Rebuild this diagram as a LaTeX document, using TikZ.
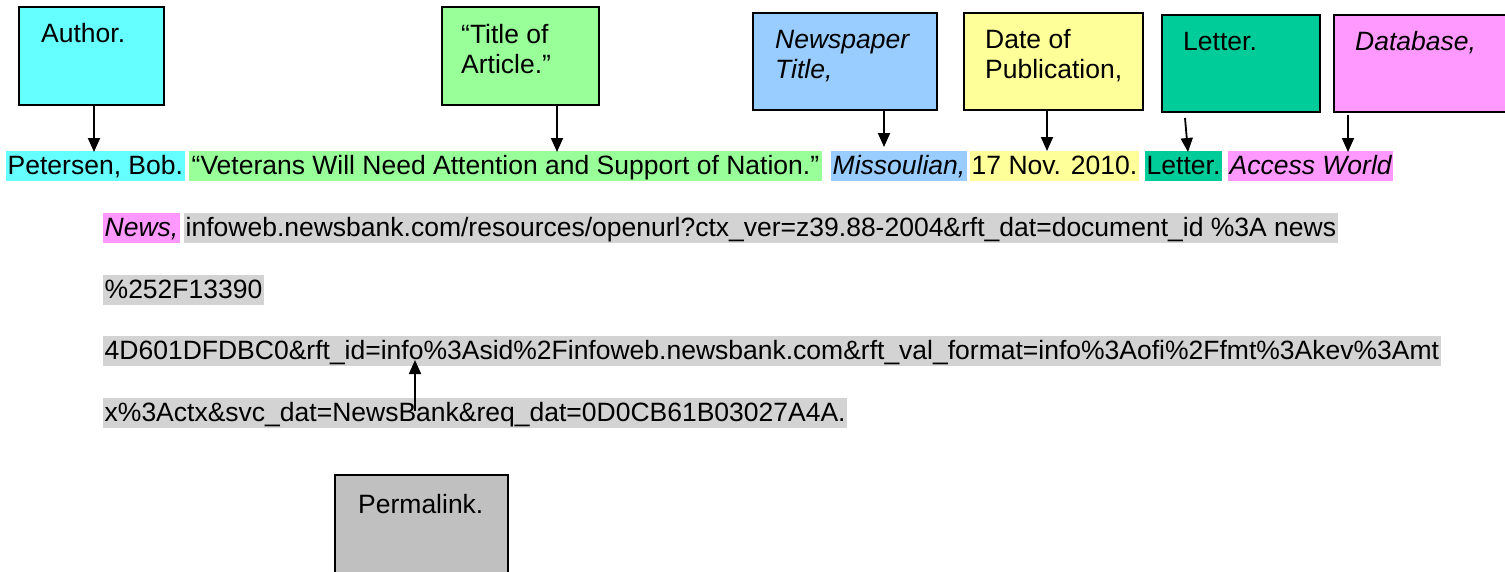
\documentclass[tikz,border=0pt]{standalone}
\usepackage{fontspec}
\setmainfont{Liberation Sans}
\usetikzlibrary{arrows.meta}
\definecolor{cAuthor}{HTML}{66FFFF}
\definecolor{cTitle}{HTML}{99FF99}
\definecolor{cPaper}{HTML}{99CCFF}
\definecolor{cDate}{HTML}{FFFF99}
\definecolor{cLetter}{HTML}{00CC99}
\definecolor{cBase}{HTML}{FF99FF}
\definecolor{cPerma}{HTML}{C0C0C0}
\definecolor{cUrl}{HTML}{D3D3D3}
\newcommand{\bigtxt}{\fontsize{26.5}{30}\selectfont}
\tikzset{
  box/.style={draw=black, line width=1.8pt, anchor=north west, inner sep=0pt},
  lab/.style={anchor=base west, inner sep=0pt, font=\bigtxt},
  seg/.style={anchor=base west, inner xsep=1.5pt, inner ysep=0pt, text height=23pt, text depth=7pt, font=\bigtxt},
  arr/.style={line width=1.8pt, -{Triangle[length=14pt,width=12pt]}},
}
\begin{document}
\begin{tikzpicture}[x=1pt,y=-1pt]
\useasboundingbox[fill=white] (0,0) rectangle (1505,571);
% boxes
\node[box, fill=cAuthor, minimum width=145pt, minimum height=98pt] (author) at (18,6) {};
\node[box, fill=cTitle, minimum width=157pt, minimum height=98pt] (title) at (441,6) {};
\node[box, fill=cPaper, minimum width=184pt, minimum height=97pt] (paper) at (752,12) {};
\node[box, fill=cDate, minimum width=179pt, minimum height=97pt] (date) at (963,12) {};
\node[box, fill=cLetter, minimum width=158pt, minimum height=97pt] (letter) at (1161,14) {};
\node[box, fill=cBase, minimum width=180pt, minimum height=97pt] (base) at (1333,14) {};
\node[box, fill=cPerma, minimum width=173pt, minimum height=110pt] (perma) at (334,474) {};
% box labels
\node[lab] (authorl) at (41,42) {Author.};
\node[lab] (titlel1) at (461,43) {“Title of};
\node[lab] (titlel2) at (461,73) {Article.”};
\node[lab] (paperl1) at (775,48) {\itshape Newspaper};
\node[lab] (paperl2) at (775,78) {\itshape Title,};
\node[lab] (datel1) at (985,48) {Date of};
\node[lab] (datel2) at (985,78) {Publication,};
\node[lab] (letterl) at (1183,50) {Letter.};
\node[lab] (basel) at (1355,50) {\itshape Database,};
\node[lab] (permal) at (358,513) {Permalink.};
% citation line 1
\node[seg, fill=cAuthor] (s1) at (6,174) {Petersen, Bob.};
\node[seg, fill=cTitle, inner xsep=2.5pt] (s2) at (189,174) {“Veterans Will Need Attention and Support of Nation.”};
\node[seg, fill=cPaper] (s3) at (831,174) {\itshape Missoulian,};
\node[seg, fill=cDate] (s4) at (970,174) {17 Nov. 2010.};
\node[seg, fill=cLetter] (s5) at (1145,174) {Letter.};
\node[seg, fill=cBase] (s6) at (1228,174) {\itshape Access World};
% line 2
\node[seg, fill=cBase] (s7) at (103,236) {\itshape News,};
\node[seg, fill=cUrl] (s8) at (184,236) {infoweb.newsbank.com/resources/openurl?ctx\_ver=z39.88-2004\&rft\_dat=document\_id \%3A news};
% line 3
\node[seg, fill=cUrl] (s9) at (103,298) {\%252F13390};
% line 4
\node[seg, fill=cUrl] (s10) at (103,359) {4D601DFDBC0\&rft\_id=info\%3Asid\%2Finfoweb.newsbank.com\&rft\_val\_format=info\%3Aofi\%2Ffmt\%3Akev\%3Amt};
% line 5
\node[seg, fill=cUrl] (s11) at (103,421) {x\%3Actx\&svc\_dat=NewsBank\&req\_dat=0D0CB61B03027A4A.};
% arrows
\coordinate (t1) at (94,152);
\coordinate (t2) at (557,152);
\coordinate (t3) at (884,147);
\coordinate (t4) at (1047,151);
\coordinate (l0) at (1185,118);
\coordinate (t5) at (1188,152);
\coordinate (t6) at (1348,152);
\coordinate (p0) at (415,411);
\coordinate (p1) at (415,360);
\draw[arr] (author.south -| t1) -- (t1);
\draw[arr] (title.south -| t2) -- (t2);
\draw[arr] (paper.south -| t3) -- (t3);
\draw[arr] (date.south -| t4) -- (t4);
\draw[arr] (l0) -- (t5);
\draw[arr] ([yshift=-2pt]base.south -| t6) -- (t6);
\draw[arr] (p0) -- (p1);
\end{tikzpicture}
\end{document}
